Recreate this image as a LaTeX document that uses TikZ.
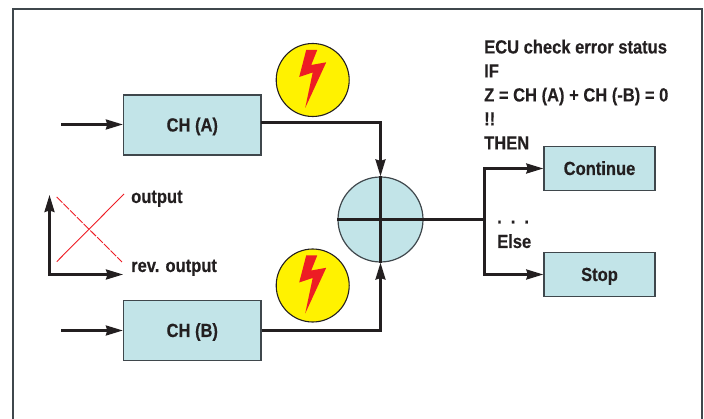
\documentclass[tikz,border=0pt]{standalone}
\usepackage{fontspec}
\setmainfont{Liberation Sans}[BoldFont={Liberation Sans Bold},BoldFeatures={FakeStretch=0.87,FakeBold=0.35}]
\usetikzlibrary{arrows.meta}
\definecolor{boxblue}{HTML}{C2E4E8}
\definecolor{ink}{HTML}{231F20}
\definecolor{edge}{HTML}{3F474C}
\definecolor{boltred}{HTML}{ED1C24}
\definecolor{boltyellow}{HTML}{FFF200}
\tikzset{
  x=1pt,y=-1pt,
  lab/.style={font=\bfseries\fontsize{19}{24}\selectfont,text=ink,inner sep=0pt},
  boxnode/.style={lab,draw=edge,line width=1.4pt,fill=boxblue,minimum height=60pt,minimum width=137.5pt,text height=13pt,text depth=0pt},
  outbox/.style={boxnode,minimum height=44pt,minimum width=111pt},
  wire/.style={draw=ink,line width=2.4pt},
  arrowwire/.style={wire,-{Stealth[length=17pt,width=10pt,inset=1.5pt]}},
  warncircle/.style={circle,draw=ink,line width=1.1pt,fill=boltyellow,minimum size=73pt,inner sep=0pt},
  bolt/.style={fill=boltred,draw=none},
  tracered/.style={draw=boltred,line width=0.9pt},
}
\newcommand{\lightning}[2]{%
  \fill[bolt,shift={(#1,#2)}] (-6.5,-30) -- (4.5,-30) -- (-1.5,-15) -- (13.5,-17.7) -- (-7.5,28) -- (0,-7.5) -- (-13.5,-3) -- cycle;}
\begin{document}
\begin{tikzpicture}
\useasboundingbox (0,0) rectangle (704,419);
% frame
\draw[draw=edge,line width=1.4pt] (13,419) -- (13,9) -- (702,9) -- (702,419);
% boxes
\node[boxnode] (chA) at (192.3,125) {CH (A)};
\node[boxnode] (chB) at (192.3,330.5) {CH (B)};
\node[outbox] (cont) at (599.5,168.5) {Continue};
\node[outbox] (stop) at (599.5,274.5) {Stop};
\node[circle,draw=edge,line width=1.2pt,fill=boxblue,minimum size=85pt,inner sep=0pt] (sum) at (380.5,219.5) {};
\draw[wire] (sum.north) -- (sum.south);
\draw[wire] (sum.west) -- (sum.east);
% warning symbols
\node[warncircle] (warnA) at (312.7,80) {};
\lightning{312.7}{80}
\node[warncircle] (warnB) at (312.7,285.5) {};
\lightning{312.7}{285.5}
% free ends
\coordinate (inA) at (61,124.5);
\coordinate (inB) at (61,330.5);
\coordinate (outA) at (261,122.5);
\coordinate (split) at (484.5,219.5);
\draw[arrowwire] (inA) -- (inA -| chA.west);
\draw[arrowwire] (inB) -- (inB -| chB.west);
\draw[arrowwire] (outA) -| (sum.north);
\draw[arrowwire] (chB.east) -| (sum.south);
\draw[wire] (sum.east) -- (split);
\draw[arrowwire] (split) |- (cont.west);
\draw[arrowwire] (split) |- (stop.west);
% chart
\coordinate (top) at (49.5,195);
\coordinate (corner) at (49.5,274.5);
\coordinate (right) at (123,274.5);
\draw[wire,{Stealth[length=17pt,width=10pt,inset=1.5pt]}-{Stealth[length=17pt,width=10pt,inset=1.5pt]}] (top) -- (corner) -- (right);
\coordinate (r1) at (56.7,261.7);
\coordinate (r2) at (124,194);
\coordinate (r3) at (56.7,197);
\coordinate (r4) at (122,262);
\draw[tracered] (r1) -- (r2);
\draw[tracered,dash pattern=on 8pt off 1.5pt] (r3) -- (r4);
% text
\node[lab,anchor=base west] (o1) at (131,203) {output};
\node[lab,anchor=base west] (o2) at (131,272) {rev. output};
\node[lab,anchor=north west,align=left] (cond) at (484,39.5) {ECU check error status\\IF\\Z = CH (A) + CH (-B) = 0\\!!\\THEN};
\node[lab,anchor=base west] (dots) at (497,223.5) {.\hspace{9pt}.\hspace{9pt}.};
\node[lab,anchor=base west] (els) at (497,248) {Else};
\end{tikzpicture}
\end{document}
